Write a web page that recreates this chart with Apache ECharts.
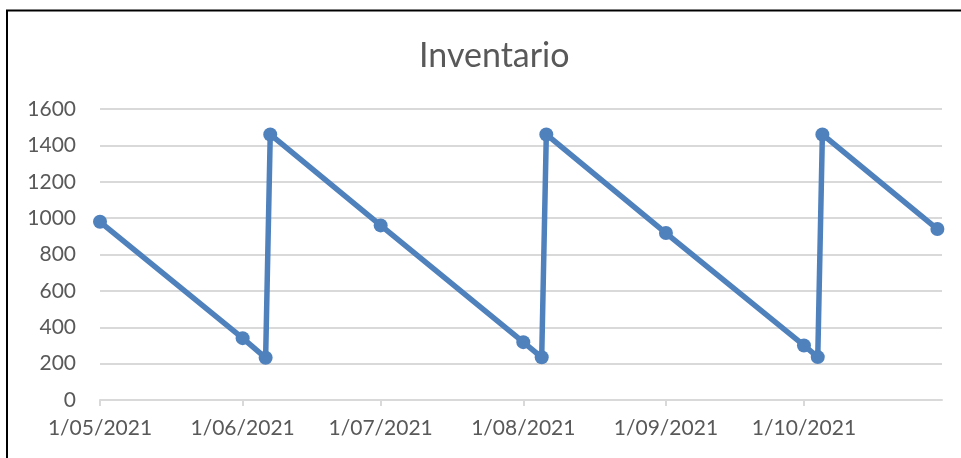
<!DOCTYPE html>
<html>
<head>
<meta charset="utf-8">
<script src="https://cdn.jsdelivr.net/npm/echarts@6/dist/echarts.min.js"></script>
<style>
html,body{margin:0;padding:0;background:#fff;}
#chart{width:961px;height:458px;}
</style>
</head>
<body>
<div id="chart"></div>
<script>
const titleText = 'Inventario';
const dates = ['2021-05-01','2021-06-01','2021-06-06','2021-06-07','2021-07-01','2021-08-01','2021-08-05','2021-08-06','2021-09-01','2021-10-01','2021-10-04','2021-10-05','2021-10-30'];
const values = [980, 340, 232, 1460, 960, 318, 235, 1460, 918, 300, 236, 1460, 940];
const xMin = '2021-05-01';
const xMax = '2021-10-31';
const yTicks = [0, 200, 400, 600, 800, 1000, 1200, 1400, 1600];

const pad = n => (n < 10 ? '0' + n : '' + n);
const chart = echarts.init(document.getElementById('chart'), null, {renderer: 'canvas'});
const DAY = 86400000;
chart.setOption({
  animation: false,
  backgroundColor: '#fff',
  graphic: [{
    type: 'rect', silent: true, z: 100,
    shape: {x: 7, y: 10.5, width: 1000, height: 500},
    style: {fill: 'none', stroke: '#000', lineWidth: 2}
  }],
  title: {
    text: titleText, left: 414, top: 34,
    textStyle: {fontFamily: 'Lato', fontSize: 34, fontWeight: 'normal', color: '#595959'}
  },
  grid: {left: 100, right: 19, top: 109, bottom: 58, containLabel: false},
  xAxis: {
    type: 'time',
    min: xMin, max: xMax,
    minInterval: 28 * DAY, maxInterval: 31 * DAY,
    splitLine: {show: false},
    axisLine: {lineStyle: {color: '#d9d9d9', width: 2}},
    axisTick: {show: true, length: 6, lineStyle: {color: '#d9d9d9', width: 2}},
    axisLabel: {
      fontFamily: 'Lato', fontSize: 21, color: '#595959', margin: 18,
      showMaxLabel: false, hideOverlap: false,
      formatter: function (val) {
        const d = new Date(val);
        return d.getDate() === 1 ? d.getDate() + '/' + pad(d.getMonth() + 1) + '/' + d.getFullYear() : '';
      }
    }
  },
  yAxis: {
    type: 'value', min: yTicks[0], max: yTicks[yTicks.length - 1], interval: yTicks[1] - yTicks[0],
    axisLine: {show: false}, axisTick: {show: false},
    splitLine: {lineStyle: {color: '#d9d9d9', width: 2}},
    axisLabel: {fontFamily: 'Lato', fontSize: 21, color: '#595959', margin: 24,
      formatter: v => String(v)}
  },
  series: [{
    type: 'line',
    data: dates.map((d, i) => [d, values[i]]),
    lineStyle: {color: '#4F81BD', width: 5.5},
    itemStyle: {color: '#4F81BD'},
    symbol: 'circle', symbolSize: 14, showSymbol: true
  }]
});
</script>
</body>
</html>
